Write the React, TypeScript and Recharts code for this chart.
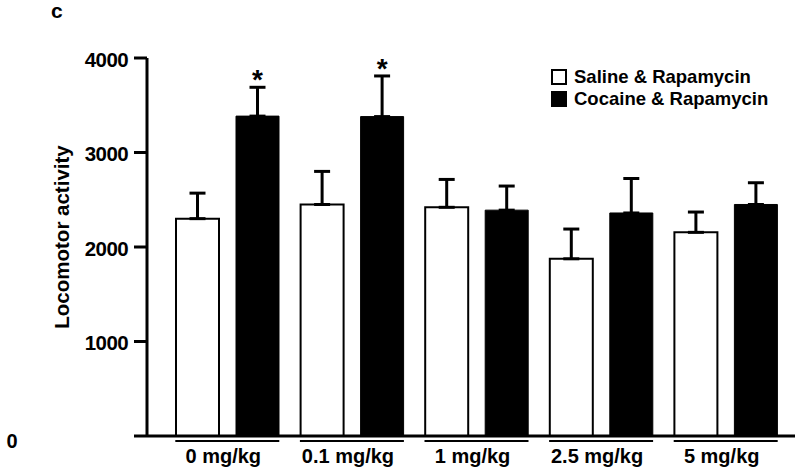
import { Bar, BarChart, ErrorBar, LabelList, XAxis, YAxis } from "recharts"

const doses = ["0 mg/kg", "0.1 mg/kg", "1 mg/kg", "2.5 mg/kg", "5 mg/kg"]
const saline = [2300, 2450, 2420, 1875, 2155]
const salineErr = [270, 350, 295, 315, 215]
const cocaine = [3385, 3380, 2390, 2360, 2450]
const cocaineErr = [305, 430, 255, 365, 230]
const significant = ["*", "*", "", "", ""]
const yTicks = [0, 1000, 2000, 3000, 4000]
const seriesNames = ["Saline & Rapamycin", "Cocaine & Rapamycin"]
const seriesFills = ["#fff", "#000"]

const FONT = "'Liberation Sans', Arial, Helvetica, sans-serif"

const data = doses.map((dose, i) => ({
  dose,
  saline: saline[i],
  salineErr: [0, salineErr[i]],
  cocaine: cocaine[i],
  cocaineErr: [0, cocaineErr[i]],
  sig: significant[i],
}))

function YTick(props: any) {
  const { x, y, payload } = props
  if (payload.value === 0) {
    // the zero label sits far out to the left in the original figure
    return (
      <text x={12} y={441} textAnchor="middle" dominantBaseline="central" fontFamily={FONT} fontWeight="bold" fontSize={20} fill="#000">
        0
      </text>
    )
  }
  return (
    <text x={x} y={y + 1} textAnchor="end" dominantBaseline="central" fontFamily={FONT} fontWeight="bold" fontSize={20.5} fill="#000" letterSpacing={-0.6}>
      {payload.value}
    </text>
  )
}

function XTick(props: any) {
  const { x, payload } = props
  return (
    <g>
      <line x1={x - 52} x2={x + 52} y1={441} y2={441} stroke="#000" strokeWidth={2} />
      <text x={x - 4} y={463} textAnchor="middle" fontFamily={FONT} fontWeight="bold" fontSize={20} fill="#000">
        {payload.value}
      </text>
    </g>
  )
}

function Star(props: any) {
  const { x, y, width, height, value, index } = props
  if (!value) return null
  const perUnit = height / cocaine[index]
  const capY = y - cocaineErr[index] * perUnit
  return (
    <text x={x + width / 2} y={capY + 2} textAnchor="middle" fontFamily={FONT} fontWeight="bold" fontSize={28} fill="#000">
      {value}
    </text>
  )
}

function YLabel() {
  return (
    <text
      x={61}
      y={237}
      transform="rotate(-90, 61, 237)"
      textAnchor="middle"
      dominantBaseline="central"
      fontFamily={FONT}
      fontWeight="bold"
      fontSize={20.5}
      fill="#000"
    >
      Locomotor activity
    </text>
  )
}

function LegendBox() {
  return (
    <div style={{ position: "absolute", left: 551, top: 66, fontFamily: FONT, fontWeight: "bold", fontSize: 18.5, color: "#000" }}>
      {seriesNames.map((name, i) => (
        <div key={name} style={{ display: "flex", alignItems: "center", height: 22 }}>
          <span
            style={{
              display: "inline-block",
              width: 12,
              height: 12,
              border: "2px solid #000",
              background: seriesFills[i],
              marginRight: 7,
            }}
          />
          {name}
        </div>
      ))}
    </div>
  )
}

export default function App() {
  return (
    <div style={{ position: "absolute", left: 0, top: 0, width: 800, height: 475, background: "#fff" }}>
      <BarChart width={800} height={475} data={data} margin={{ top: 58, right: 5, bottom: 3, left: 0 }} barGap={17} barSize={43}>
        <XAxis
          dataKey="dose"
          height={36}
          padding={{ left: 18, right: 7 }}
          axisLine={{ stroke: "#000", strokeWidth: 3 }}
          tickLine={false}
          tick={<XTick />}
          interval={0}
        />
        <YAxis
          width={147}
          domain={[0, 4000]}
          ticks={yTicks}
          tickSize={13}
          tickMargin={6}
          axisLine={{ stroke: "#000", strokeWidth: 3 }}
          tickLine={{ stroke: "#000", strokeWidth: 3 }}
          tick={<YTick />}
          label={<YLabel />}
        />
        <Bar dataKey="saline" name={seriesNames[0]} fill={seriesFills[0]} stroke="#000" strokeWidth={2} isAnimationActive={false}>
          <ErrorBar dataKey="salineErr" width={8} stroke="#000" strokeWidth={3} direction="y" />
        </Bar>
        <Bar dataKey="cocaine" name={seriesNames[1]} fill={seriesFills[1]} stroke="#000" strokeWidth={1} isAnimationActive={false}>
          <ErrorBar dataKey="cocaineErr" width={8} stroke="#000" strokeWidth={3} direction="y" />
          <LabelList dataKey="sig" content={<Star />} />
        </Bar>
      </BarChart>
      <LegendBox />
      <div style={{ position: "absolute", left: 51, top: 1, fontFamily: FONT, fontWeight: "bold", fontSize: 21, lineHeight: "20px" }}>c</div>
    </div>
  )
}
